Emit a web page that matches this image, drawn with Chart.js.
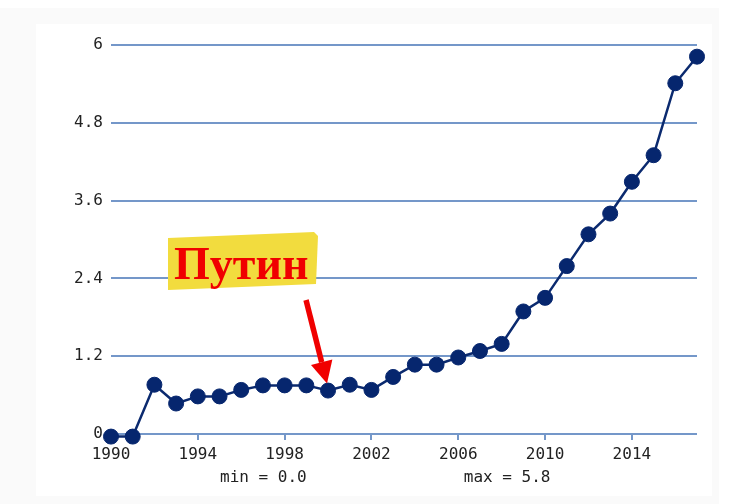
<!DOCTYPE html>
<html>
<head>
<meta charset="utf-8">
<script src="https://cdn.jsdelivr.net/npm/chart.js@4.4.1/dist/chart.umd.min.js"></script>
<style>
  html, body { margin: 0; padding: 0; background: #ffffff; }
  #frame { position: absolute; left: 0; top: 8px; width: 719px; height: 496px; background: #fafafa; }
  #panel { position: absolute; left: 36px; top: 24px; width: 676px; height: 472px; background: #ffffff; }
  canvas { display: block; }
</style>
</head>
<body>
<div id="frame"></div>
<div id="panel"><canvas id="c" width="676" height="472"></canvas></div>
<script>
// ---- data ----
const years = [1990,1991,1992,1993,1994,1995,1996,1997,1998,1999,2000,2001,2002,2003,2004,2005,2006,2007,2008,2009,2010,2011,2012,2013,2014,2015,2016,2017];
const values = [-0.04,-0.04,0.76,0.47,0.58,0.58,0.68,0.75,0.75,0.75,0.67,0.76,0.68,0.88,1.07,1.07,1.18,1.28,1.39,1.89,2.10,2.59,3.08,3.40,3.89,4.30,5.41,5.82];
const yTicks = [0, 1.2, 2.4, 3.6, 4.8, 6];
const xTicks = [1990, 1994, 1998, 2002, 2006, 2010, 2014];
const minLabel = 'min = 0.0';
const maxLabel = 'max = 5.8';
const noteText = 'Путин';
const noteYear = 2000;

const points = years.map((y, i) => ({ x: y, y: values[i] }));
const gridColor = '#7497c9';
const textColor = '#222222';
const tickFont = { family: '"DejaVu Sans Mono", monospace', size: 16 };

const overlay = {
  id: 'overlay',
  afterDatasetsDraw(chart) {
    const ctx = chart.ctx;
    const ca = chart.chartArea;
    const xs = chart.scales.x, ys = chart.scales.y;
    ctx.save();
    // min / max labels
    ctx.fillStyle = textColor;
    ctx.font = '16px "DejaVu Sans Mono", monospace';
    ctx.textAlign = 'center';
    ctx.textBaseline = 'middle';
    const w = ca.right - ca.left;
    ctx.fillText(minLabel, ca.left + w * 0.26, ca.bottom + 44);
    ctx.fillText(maxLabel, ca.left + w * 0.676, ca.bottom + 44);

    // highlight box
    ctx.fillStyle = '#f2dc3e';
    ctx.beginPath();
    ctx.moveTo(132, 214);
    ctx.lineTo(278, 208);
    ctx.lineTo(282, 212);
    ctx.lineTo(280, 260);
    ctx.lineTo(132, 266);
    ctx.closePath();
    ctx.fill();
    // text
    ctx.fillStyle = '#f00000';
    ctx.font = 'bold 46px "Liberation Serif", "DejaVu Serif", serif';
    ctx.textAlign = 'left';
    ctx.textBaseline = 'alphabetic';
    ctx.fillText(noteText, 138, 255);

    // arrow to the point
    const idx = years.indexOf(noteYear);
    const tx = xs.getPixelForValue(noteYear) - 1;
    const ty = ys.getPixelForValue(values[idx]) - 7;
    const sx = tx - 21, sy = 276;
    const ang = Math.atan2(ty - sy, tx - sx);
    const headLen = 22, headW = 11;
    const bx = tx - headLen * Math.cos(ang), by = ty - headLen * Math.sin(ang);
    ctx.strokeStyle = '#f00000';
    ctx.lineWidth = 5.5;
    ctx.beginPath();
    ctx.moveTo(sx, sy);
    ctx.lineTo(bx, by);
    ctx.stroke();
    ctx.fillStyle = '#f00000';
    ctx.beginPath();
    ctx.moveTo(tx, ty);
    ctx.lineTo(bx + headW * Math.sin(ang), by - headW * Math.cos(ang));
    ctx.lineTo(bx - headW * Math.sin(ang), by + headW * Math.cos(ang));
    ctx.closePath();
    ctx.fill();
    ctx.restore();
  }
};

new Chart(document.getElementById('c'), {
  type: 'line',
  data: {
    datasets: [{
      data: points,
      borderColor: '#0b2a6f',
      borderWidth: 2.5,
      backgroundColor: '#06266e',
      pointBackgroundColor: '#06266e',
      pointBorderColor: '#06266e',
      pointRadius: 7.5,
      pointBorderWidth: 1,
      tension: 0,
      clip: false
    }]
  },
  options: {
    responsive: false,
    animation: false,
    devicePixelRatio: 1,
    layout: { padding: { top: 21, right: 15, left: 0, bottom: 0 } },
    plugins: { legend: { display: false }, tooltip: { enabled: false } },
    scales: {
      x: {
        type: 'linear',
        min: 1990,
        max: 2017,
        afterBuildTicks(scale) { scale.ticks = xTicks.map(v => ({ value: v })); },
        afterFit(scale) { scale.height = 62; },
        border: { display: false },
        grid: { drawOnChartArea: false, drawTicks: true, tickLength: 6, color: gridColor, lineWidth: 2 },
        ticks: { font: tickFont, color: textColor, padding: 5, maxRotation: 0, callback: v => String(v) }
      },
      y: {
        min: 0,
        max: 6,
        afterBuildTicks(scale) { scale.ticks = yTicks.map(v => ({ value: v })); },
        afterFit(scale) { scale.width = 75; },
        border: { display: false },
        grid: { drawTicks: false, color: gridColor, lineWidth: 2 },
        ticks: { font: tickFont, color: textColor, padding: 8, callback: v => String(v) }
      }
    }
  },
  plugins: [overlay]
});
</script>
</body>
</html>
